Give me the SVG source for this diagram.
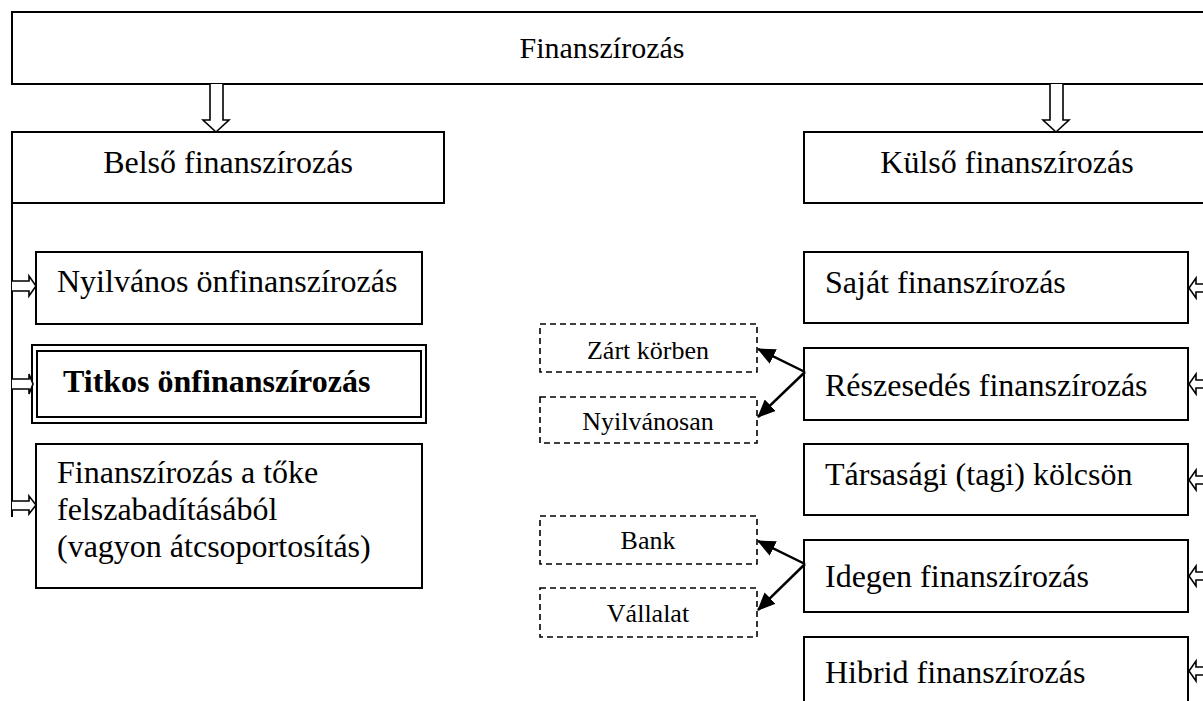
<svg xmlns="http://www.w3.org/2000/svg" width="1203" height="701" viewBox="0 0 1203 701">
<style>
.box{fill:#fff;stroke:#000;stroke-width:2}
.dash{fill:#fff;stroke:#000;stroke-width:1.6;stroke-dasharray:6 4}
.t{font-family:"Liberation Serif","Times New Roman",serif;font-size:32px;fill:#000}
.s{font-family:"Liberation Serif","Times New Roman",serif;font-size:26px;fill:#000;text-anchor:middle}
.b{font-weight:bold}
.ha{fill:#fff;stroke:#000;stroke-width:1.6}
.ln{fill:none;stroke:#000;stroke-width:2}
.ar{stroke:#000;stroke-width:2.5;fill:none;marker-end:url(#ah)}
</style>
<defs>
<marker id="ah" markerUnits="userSpaceOnUse" markerWidth="18" markerHeight="16" refX="17" refY="8" orient="auto">
<path d="M0,0 L18,8 L0,16 z" fill="#000"/>
</marker>
</defs>
<rect width="1203" height="701" fill="#fff"/>
<g id="n-finanszirozas">
<rect class="box" x="12" y="12" width="1200" height="72"/>
<text class="t" x="602" y="58" text-anchor="middle" style="font-size:30px">Finanszírozás</text>
</g>
<g id="n-belso">
<rect class="box" x="12" y="132" width="432" height="71"/>
<text class="t" x="228" y="173" text-anchor="middle">Belső finanszírozás</text>
</g>
<g id="n-kulso">
<rect class="box" x="804" y="132" width="420" height="71"/>
<text class="t" x="1007" y="173" text-anchor="middle">Külső finanszírozás</text>
</g>
<g id="n-nyilvanos">
<rect class="box" x="36" y="252" width="386" height="72"/>
<text class="t" x="57" y="292">Nyilvános önfinanszírozás</text>
</g>
<g id="n-titkos">
<rect class="box" x="32" y="345" width="394" height="78" stroke-width="3"/>
<rect class="box" x="37" y="351" width="384" height="66"/>
<text class="t b" x="63" y="392">Titkos önfinanszírozás</text>
</g>
<g id="n-toke">
<rect class="box" x="36" y="444" width="386" height="144"/>
<text class="t" x="57" y="483">Finanszírozás a tőke</text>
<text class="t" x="57" y="520">felszabadításából</text>
<text class="t" x="57" y="557">(vagyon átcsoportosítás)</text>
</g>
<g id="n-sajat">
<rect class="box" x="804" y="252" width="384" height="71"/>
<text class="t" x="825" y="293">Saját finanszírozás</text>
</g>
<g id="n-reszesedes">
<rect class="box" x="804" y="348" width="384" height="72"/>
<text class="t" x="825" y="396">Részesedés finanszírozás</text>
</g>
<g id="n-tarsasagi">
<rect class="box" x="804" y="444" width="384" height="71"/>
<text class="t" x="825" y="485">Társasági (tagi) kölcsön</text>
</g>
<g id="n-idegen">
<rect class="box" x="804" y="540" width="384" height="72"/>
<text class="t" x="825" y="587">Idegen finanszírozás</text>
</g>
<g id="n-hibrid">
<rect class="box" x="804" y="637" width="384" height="80"/>
<text class="t" x="825" y="683">Hibrid finanszírozás</text>
</g>
<g id="n-zart">
<rect class="dash" x="540" y="324" width="217" height="48"/>
<text class="s" x="648" y="359">Zárt körben</text>
</g>
<g id="n-nyilvanosan">
<rect class="dash" x="540" y="397" width="217" height="46"/>
<text class="s" x="648" y="430">Nyilvánosan</text>
</g>
<g id="n-bank">
<rect class="dash" x="540" y="516" width="217" height="48"/>
<text class="s" x="648" y="549">Bank</text>
</g>
<g id="n-vallalat">
<rect class="dash" x="540" y="588" width="217" height="49"/>
<text class="s" x="648" y="622">Vállalat</text>
</g>
<g id="connectors">
<path class="ha" d="M210,84 L210,120 L203,120 L216,132 L229,120 L223,120 L223,84"/>
<path class="ha" d="M1050,84 L1050,120 L1043,120 L1056,132 L1069,120 L1063,120 L1063,84"/>
<line class="ln" x1="12" y1="203" x2="12" y2="517"/>
<path class="ha" d="M12,281 L29,281 L29,276 L36,286 L29,296 L29,291 L12,291"/>
<path class="ha" d="M12,379 L29,379 L29,374 L33,384 L29,394 L29,389 L12,389"/>
<path class="ha" d="M12,501 L29,501 L29,496 L36,505 L29,514 L29,510 L12,510"/>
<path class="ha" d="M1204,284 L1196,284 L1196,278 L1189,288 L1196,298 L1196,292 L1204,292"/>
<path class="ha" d="M1204,380 L1196,380 L1196,374 L1189,384 L1196,394 L1196,388 L1204,388"/>
<path class="ha" d="M1204,476 L1196,476 L1196,470 L1189,480 L1196,490 L1196,484 L1204,484"/>
<path class="ha" d="M1204,572 L1196,572 L1196,566 L1189,576 L1196,586 L1196,580 L1204,580"/>
<path class="ha" d="M1204,667 L1196,667 L1196,661 L1189,671 L1196,681 L1196,675 L1204,675"/>
<line class="ar" x1="805" y1="372" x2="758" y2="349"/>
<line class="ar" x1="805" y1="372" x2="758" y2="417"/>
<line class="ar" x1="805" y1="564" x2="758" y2="541"/>
<line class="ar" x1="805" y1="564" x2="758" y2="610"/>
</g>
</svg>
